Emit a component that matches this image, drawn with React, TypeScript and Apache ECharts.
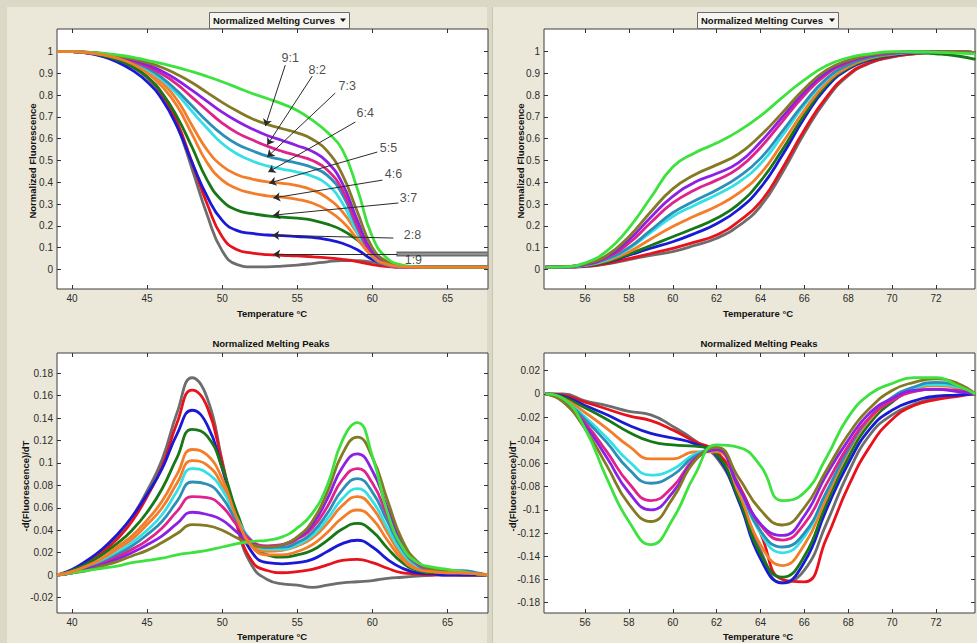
import React, { useEffect, useRef } from "react";
import * as echarts from "echarts";

const FONT = '"Liberation Sans", Arial, Helvetica, sans-serif';

// ---------- temperatures (x samples) ----------
const TL_T = [39, 40, 41, 42, 43, 44, 45, 46, 47, 48, 49, 50, 51, 52, 53, 54, 55, 56, 57, 58, 59, 60, 61, 62, 63, 64, 65, 66, 67, 67.7];
const TR_T = [54.2, 55, 56, 57, 58, 59, 60, 61, 62, 63, 64, 65, 66, 67, 68, 69, 70, 71, 72, 73, 73.8];

// ---------- tick values ----------
const L_XTICKS = [40, 45, 50, 55, 60, 65];
const R_XTICKS = [56, 58, 60, 62, 64, 66, 68, 70, 72];
const CURVE_YTICKS = [0, 0.1, 0.2, 0.3, 0.4, 0.5, 0.6, 0.7, 0.8, 0.9, 1];
const BL_YTICKS = [-0.02, 0, 0.02, 0.04, 0.06, 0.08, 0.1, 0.12, 0.14, 0.16, 0.18];
const BR_YTICKS = [-0.18, -0.16, -0.14, -0.12, -0.1, -0.08, -0.06, -0.04, -0.02, 0, 0.02];

// ---------- groups: gray, red, blue, dark green, orange, cyan, teal, pink, purple, olive, green ----------
const GROUP_KEYS = ["gray", "red", "blue", "dkgreen", "orange", "cyan", "teal", "pink", "purple", "olive", "green"];
const GROUP_COLORS = ["#6d6d6d", "#e8121c", "#1a1ad6", "#177817", "#f47d2a", "#35dfe6", "#2b8fb7", "#e0228c", "#8c20e4", "#857a24", "#3ee23e"];

// ---------- top-left: normalized melting curves ----------
const tlGray = [1, 1, 0.995, 0.985, 0.965, 0.93, 0.88, 0.8, 0.66, 0.46, 0.25, 0.085, 0.022, 0.012, 0.012, 0.015, 0.02, 0.027, 0.035, 0.04, 0.04, 0.033, 0.022, 0.014, 0.012, 0.012, 0.012, 0.012, 0.012, 0.012];
const tlRed = [1, 1, 0.995, 0.985, 0.966, 0.935, 0.885, 0.805, 0.675, 0.49, 0.3, 0.15, 0.09, 0.075, 0.068, 0.065, 0.062, 0.058, 0.053, 0.046, 0.036, 0.022, 0.013, 0.01, 0.01, 0.01, 0.01, 0.01, 0.01, 0.01];
const tlBlue = [1, 1, 0.993, 0.978, 0.953, 0.915, 0.862, 0.78, 0.655, 0.49, 0.335, 0.225, 0.178, 0.165, 0.158, 0.155, 0.151, 0.147, 0.137, 0.12, 0.09, 0.045, 0.02, 0.012, 0.01, 0.01, 0.01, 0.01, 0.01, 0.01];
const tlDkGreen = [1, 1, 0.995, 0.982, 0.962, 0.932, 0.885, 0.81, 0.7, 0.56, 0.41, 0.315, 0.272, 0.256, 0.246, 0.24, 0.235, 0.226, 0.208, 0.18, 0.135, 0.075, 0.03, 0.015, 0.01, 0.01, 0.01, 0.01, 0.01, 0.01];
const tlOrange = [1, 1, 0.996, 0.987, 0.973, 0.95, 0.915, 0.858, 0.778, 0.66, 0.548, 0.475, 0.435, 0.415, 0.402, 0.395, 0.385, 0.365, 0.328, 0.265, 0.165, 0.068, 0.025, 0.012, 0.01, 0.01, 0.01, 0.01, 0.01, 0.01];
const tlOrange2 = [1, 1, 0.996, 0.986, 0.97, 0.944, 0.903, 0.84, 0.75, 0.62, 0.49, 0.41, 0.37, 0.35, 0.338, 0.332, 0.322, 0.305, 0.272, 0.22, 0.14, 0.06, 0.023, 0.012, 0.01, 0.01, 0.01, 0.01, 0.01, 0.01];
const tlCyan = [1, 1, 0.997, 0.99, 0.975, 0.952, 0.918, 0.87, 0.805, 0.725, 0.648, 0.578, 0.53, 0.498, 0.475, 0.46, 0.447, 0.428, 0.39, 0.305, 0.17, 0.06, 0.02, 0.01, 0.01, 0.01, 0.01, 0.01, 0.01, 0.01];
const tlTeal = [1, 1, 0.997, 0.99, 0.977, 0.955, 0.925, 0.88, 0.82, 0.75, 0.68, 0.62, 0.575, 0.545, 0.52, 0.503, 0.488, 0.468, 0.432, 0.345, 0.19, 0.065, 0.02, 0.01, 0.01, 0.01, 0.01, 0.01, 0.01, 0.01];
const tlPink = [1, 1, 0.997, 0.99, 0.977, 0.958, 0.932, 0.897, 0.85, 0.79, 0.73, 0.672, 0.627, 0.595, 0.566, 0.542, 0.522, 0.5, 0.457, 0.365, 0.2, 0.07, 0.022, 0.01, 0.01, 0.01, 0.01, 0.01, 0.01, 0.01];
const tlPurple = [1, 1, 0.997, 0.99, 0.978, 0.962, 0.94, 0.91, 0.87, 0.822, 0.772, 0.722, 0.68, 0.645, 0.615, 0.592, 0.568, 0.542, 0.493, 0.395, 0.225, 0.08, 0.025, 0.012, 0.01, 0.01, 0.01, 0.01, 0.01, 0.01];
const tlOlive = [1, 1, 0.998, 0.992, 0.982, 0.968, 0.95, 0.927, 0.895, 0.857, 0.812, 0.767, 0.727, 0.692, 0.666, 0.646, 0.627, 0.598, 0.543, 0.435, 0.265, 0.1, 0.035, 0.015, 0.01, 0.01, 0.01, 0.01, 0.01, 0.01];
const tlGreen = [1, 1, 0.998, 0.993, 0.985, 0.975, 0.96, 0.945, 0.928, 0.908, 0.886, 0.862, 0.835, 0.808, 0.785, 0.76, 0.73, 0.685, 0.63, 0.55, 0.37, 0.15, 0.05, 0.02, 0.012, 0.01, 0.01, 0.01, 0.01, 0.01];
// two gray traces that stay high at the right end
const tlGrayTailT = [61.6, 67.7];
const tlGrayTailA = [0.077, 0.077];
const tlGrayTailB = [0.064, 0.064];

// ---------- top-right: normalized melting curves ----------
const trGray = [0.01, 0.01, 0.013, 0.025, 0.045, 0.064, 0.082, 0.11, 0.143, 0.2, 0.29, 0.445, 0.625, 0.78, 0.89, 0.948, 0.975, 0.99, 0.998, 1, 0.995];
const trRed = [0.01, 0.01, 0.014, 0.027, 0.05, 0.073, 0.097, 0.125, 0.158, 0.22, 0.31, 0.465, 0.64, 0.79, 0.895, 0.95, 0.977, 0.99, 0.998, 1, 0.995];
const trBlue = [0.01, 0.011, 0.016, 0.033, 0.065, 0.097, 0.127, 0.165, 0.21, 0.275, 0.375, 0.525, 0.695, 0.835, 0.92, 0.962, 0.983, 0.995, 1, 1, 0.995];
const trDkGreen = [0.01, 0.011, 0.017, 0.035, 0.07, 0.11, 0.15, 0.19, 0.235, 0.3, 0.405, 0.55, 0.71, 0.845, 0.925, 0.965, 0.985, 0.995, 0.99, 0.98, 0.965];
const trOrange = [0.01, 0.011, 0.018, 0.04, 0.08, 0.14, 0.197, 0.245, 0.29, 0.35, 0.44, 0.58, 0.73, 0.855, 0.93, 0.97, 0.988, 0.997, 1, 1, 0.99];
const trCyan = [0.01, 0.011, 0.019, 0.045, 0.095, 0.17, 0.243, 0.295, 0.343, 0.4, 0.485, 0.615, 0.755, 0.87, 0.94, 0.975, 0.99, 0.998, 1, 1, 0.995];
const trTeal = [0.01, 0.011, 0.02, 0.048, 0.1, 0.18, 0.26, 0.315, 0.365, 0.425, 0.51, 0.635, 0.765, 0.875, 0.94, 0.975, 0.99, 0.998, 1, 1, 0.99];
const trPink = [0.01, 0.012, 0.022, 0.055, 0.12, 0.215, 0.305, 0.365, 0.41, 0.465, 0.56, 0.68, 0.8, 0.895, 0.95, 0.98, 0.993, 1, 1, 1, 0.995];
const trPurple = [0.01, 0.012, 0.023, 0.06, 0.135, 0.24, 0.335, 0.4, 0.44, 0.49, 0.585, 0.7, 0.815, 0.905, 0.955, 0.982, 0.995, 1, 1, 1, 0.995];
const trOlive = [0.01, 0.012, 0.025, 0.065, 0.15, 0.265, 0.37, 0.435, 0.48, 0.53, 0.615, 0.72, 0.83, 0.915, 0.96, 0.985, 0.997, 1, 1, 1, 0.995];
const trGreen = [0.01, 0.012, 0.03, 0.085, 0.19, 0.33, 0.47, 0.535, 0.58, 0.635, 0.705, 0.79, 0.87, 0.935, 0.972, 0.99, 1, 1, 0.997, 0.993, 0.99];

// ---------- bottom-left: normalized melting peaks ----------
const blGray = [0, 0.004, 0.012, 0.022, 0.035, 0.052, 0.075, 0.103, 0.145, 0.176, 0.158, 0.102, 0.043, 0.008, -0.004, -0.008, -0.009, -0.011, -0.009, -0.007, -0.006, -0.005, -0.003, -0.002, -0.001, 0, 0.001, 0, 0, 0];
const blRed = [0, 0.004, 0.011, 0.02, 0.032, 0.048, 0.07, 0.097, 0.136, 0.165, 0.15, 0.1, 0.045, 0.012, 0.004, 0.002, 0.003, 0.005, 0.009, 0.013, 0.014, 0.011, 0.006, 0.002, 0.001, 0, 0, 0, 0, 0];
const blBlue = [0, 0.005, 0.013, 0.023, 0.036, 0.052, 0.072, 0.095, 0.126, 0.147, 0.134, 0.095, 0.05, 0.02, 0.011, 0.01, 0.011, 0.014, 0.021, 0.028, 0.031, 0.025, 0.014, 0.006, 0.002, 0.001, 0, 0, 0, 0];
const blDkGreen = [0, 0.004, 0.01, 0.018, 0.028, 0.04, 0.056, 0.077, 0.105, 0.13, 0.124, 0.096, 0.055, 0.027, 0.018, 0.016, 0.018, 0.022, 0.031, 0.041, 0.046, 0.039, 0.024, 0.011, 0.004, 0.002, 0.003, 0.003, 0.001, 0];
const blOrange = [0, 0.003, 0.008, 0.014, 0.023, 0.032, 0.045, 0.06, 0.082, 0.102, 0.098, 0.08, 0.05, 0.027, 0.021, 0.022, 0.026, 0.033, 0.046, 0.062, 0.07, 0.06, 0.038, 0.017, 0.006, 0.003, 0.002, 0.002, 0.001, 0];
const blOrange2 = [0, 0.003, 0.008, 0.015, 0.025, 0.035, 0.049, 0.066, 0.09, 0.112, 0.107, 0.086, 0.05, 0.025, 0.018, 0.018, 0.021, 0.027, 0.038, 0.051, 0.058, 0.05, 0.031, 0.014, 0.005, 0.003, 0.002, 0.002, 0.001, 0];
const blCyan = [0, 0.002, 0.006, 0.012, 0.02, 0.029, 0.04, 0.054, 0.075, 0.095, 0.091, 0.076, 0.05, 0.03, 0.023, 0.023, 0.027, 0.035, 0.05, 0.068, 0.077, 0.066, 0.042, 0.02, 0.008, 0.004, 0.003, 0.002, 0.001, 0];
const blTeal = [0, 0.002, 0.006, 0.011, 0.018, 0.026, 0.036, 0.048, 0.066, 0.083, 0.081, 0.069, 0.047, 0.03, 0.025, 0.025, 0.029, 0.038, 0.055, 0.076, 0.086, 0.074, 0.048, 0.023, 0.009, 0.004, 0.004, 0.004, 0.002, 0];
const blPink = [0, 0.002, 0.005, 0.01, 0.016, 0.023, 0.031, 0.042, 0.057, 0.07, 0.069, 0.061, 0.044, 0.03, 0.026, 0.027, 0.032, 0.042, 0.061, 0.085, 0.095, 0.082, 0.053, 0.025, 0.01, 0.005, 0.003, 0.002, 0.001, 0];
const blPurple = [0, 0.002, 0.005, 0.009, 0.014, 0.02, 0.027, 0.035, 0.046, 0.056, 0.054, 0.049, 0.038, 0.028, 0.025, 0.027, 0.033, 0.045, 0.068, 0.096, 0.108, 0.093, 0.06, 0.028, 0.011, 0.005, 0.003, 0.002, 0.001, 0];
const blOlive = [0, 0.002, 0.004, 0.008, 0.012, 0.017, 0.022, 0.029, 0.037, 0.045, 0.044, 0.04, 0.033, 0.027, 0.025, 0.027, 0.034, 0.048, 0.074, 0.108, 0.123, 0.105, 0.067, 0.031, 0.012, 0.005, 0.003, 0.002, 0.001, 0];
const blGreen = [0, 0.002, 0.004, 0.006, 0.008, 0.011, 0.013, 0.015, 0.018, 0.02, 0.022, 0.025, 0.028, 0.03, 0.031, 0.034, 0.042, 0.055, 0.08, 0.12, 0.136, 0.106, 0.056, 0.025, 0.011, 0.007, 0.005, 0.003, 0.001, 0];

// ---------- bottom-right: normalized melting peaks ----------
const brGray = [0, 0, -0.006, -0.01, -0.015, -0.018, -0.028, -0.04, -0.055, -0.09, -0.135, -0.163, -0.152, -0.112, -0.068, -0.035, -0.018, -0.009, -0.003, -0.001, 0];
const brRed = [0, -0.001, -0.007, -0.013, -0.019, -0.023, -0.031, -0.041, -0.05, -0.078, -0.12, -0.16, -0.162, -0.125, -0.08, -0.045, -0.022, -0.01, -0.005, -0.002, 0];
const brBlue = [0, -0.002, -0.01, -0.018, -0.027, -0.034, -0.038, -0.043, -0.053, -0.092, -0.142, -0.163, -0.145, -0.1, -0.06, -0.03, -0.014, -0.006, -0.002, -0.001, 0];
const brDkGreen = [0, -0.003, -0.012, -0.022, -0.033, -0.041, -0.044, -0.045, -0.052, -0.09, -0.138, -0.158, -0.14, -0.095, -0.055, -0.025, -0.007, 0.004, 0.008, 0.006, 0];
const brOrange = [0, -0.004, -0.016, -0.03, -0.045, -0.056, -0.056, -0.05, -0.05, -0.085, -0.13, -0.148, -0.13, -0.09, -0.05, -0.022, -0.005, 0.004, 0.007, 0.005, 0];
const brCyan = [0, -0.005, -0.02, -0.038, -0.058, -0.07, -0.065, -0.052, -0.048, -0.08, -0.12, -0.137, -0.123, -0.085, -0.048, -0.02, -0.004, 0.005, 0.008, 0.006, 0];
const brTeal = [0, -0.005, -0.022, -0.042, -0.065, -0.077, -0.07, -0.054, -0.048, -0.08, -0.118, -0.132, -0.12, -0.085, -0.048, -0.02, -0.003, 0.006, 0.01, 0.007, 0];
const brPink = [0, -0.006, -0.025, -0.05, -0.077, -0.092, -0.08, -0.056, -0.048, -0.08, -0.113, -0.126, -0.112, -0.078, -0.045, -0.02, -0.006, 0.002, 0.004, 0.003, 0];
const brPurple = [0, -0.006, -0.027, -0.055, -0.085, -0.1, -0.085, -0.057, -0.048, -0.08, -0.112, -0.122, -0.105, -0.07, -0.04, -0.016, -0.004, 0.003, 0.004, 0.002, 0];
const brOlive = [0, -0.007, -0.03, -0.062, -0.095, -0.11, -0.09, -0.058, -0.046, -0.072, -0.1, -0.113, -0.098, -0.066, -0.035, -0.012, 0.003, 0.01, 0.013, 0.009, 0];
const brGreen = [0, -0.004, -0.03, -0.073, -0.11, -0.13, -0.108, -0.07, -0.044, -0.046, -0.062, -0.092, -0.085, -0.055, -0.02, 0, 0.009, 0.014, 0.014, 0.007, 0];

// ---------- ratio annotations (top-left), in data units ----------
const RATIO_LABELS = ["9:1", "8:2", "7:3", "6:4", "5:5", "4:6", "3:7", "2:8", "1:9"];
const RATIO_LABEL_POS = [[54.53, 0.97], [56.33, 0.915], [58.33, 0.842], [59.53, 0.718], [61.07, 0.557], [61.4, 0.438], [62.4, 0.327], [62.67, 0.157], [62.73, 0.043]];
const ARROW_FROM = [[54.2, 0.938], [56.0, 0.888], [57.53, 0.81], [58.87, 0.677], [60.33, 0.539], [60.67, 0.41], [61.73, 0.305], [61.4, 0.144], [61.67, 0.07]];
const ARROW_TO = [[52.87, 0.658], [53.0, 0.571], [53.0, 0.516], [53.07, 0.447], [53.13, 0.396], [53.4, 0.328], [53.4, 0.249], [53.33, 0.157], [53.4, 0.07]];

const TL_CURVES = [tlGray, tlRed, tlBlue, tlDkGreen, tlOrange, tlCyan, tlTeal, tlPink, tlPurple, tlOlive, tlGreen];
const TR_CURVES = [trGray, trRed, trBlue, trDkGreen, trOrange, trCyan, trTeal, trPink, trPurple, trOlive, trGreen];
const BL_CURVES = [blGray, blRed, blBlue, blDkGreen, blOrange, blCyan, blTeal, blPink, blPurple, blOlive, blGreen];
const BR_CURVES = [brGray, brRed, brBlue, brDkGreen, brOrange, brCyan, brTeal, brPink, brPurple, brOlive, brGreen];
const ORANGE_INDEX = 4;

const fmt = (v: number) => String(Number(v.toFixed(3)));

function axisBase(p: number, min: number, max: number, ticks: number[]) {
  return {
    type: "value",
    gridIndex: p,
    min,
    max,
    axisLine: { show: false, onZero: false },
    splitLine: { show: false },
    axisTick: { show: true, inside: true, length: 4, lineStyle: { color: "#333", width: 1 }, customValues: ticks },
  };
}

function xPair(p: number, min: number, max: number, ticks: number[]) {
  const base = axisBase(p, min, max, ticks);
  return [
    { ...base, position: "bottom", axisLabel: { show: true, customValues: ticks, formatter: fmt, fontSize: 10, color: "#2b2b2b", fontFamily: FONT, margin: 4 } },
    { ...base, position: "top", axisLabel: { show: false } },
  ];
}

function yPair(p: number, min: number, max: number, ticks: number[]) {
  const base = axisBase(p, min, max, ticks);
  return [
    { ...base, position: "left", axisLabel: { show: true, customValues: ticks, formatter: fmt, fontSize: 10, color: "#2b2b2b", fontFamily: FONT, margin: 4 } },
    { ...base, position: "right", axisLabel: { show: false } },
  ];
}

function oneCurve(p: number, T: number[], vals: number[], gi: number, name: string, width: number) {
  return {
    type: "line",
    name,
    xAxisIndex: p * 2,
    yAxisIndex: p * 2,
    data: T.map((t, i) => [t, vals[i]]),
    smooth: 0.5,
    symbol: "none",
    showSymbol: false,
    silent: true,
    lineStyle: { width, color: GROUP_COLORS[gi] },
    itemStyle: { color: GROUP_COLORS[gi] },
    z: 2,
  };
}

function curveSeries(p: number, T: number[], curves: number[][], width: number) {
  return curves.map((vals, gi) => oneCurve(p, T, vals, gi, `p${p}-${GROUP_KEYS[gi]}`, width));
}

function buildOption() {
  const gridBase = { show: true, backgroundColor: "#ffffff", borderColor: "#3c3c3c", borderWidth: 1, containLabel: false, outerBoundsMode: "none" };
  const grids = [
    { ...gridBase, left: 57, top: 29, width: 431, height: 260 },
    { ...gridBase, left: 544, top: 29, width: 431, height: 260 },
    { ...gridBase, left: 57, top: 353, width: 431, height: 260 },
    { ...gridBase, left: 544, top: 353, width: 431, height: 260 },
  ];
  const xAxis = [
    ...xPair(0, 39, 67.7, L_XTICKS),
    ...xPair(1, 54.13, 73.78, R_XTICKS),
    ...xPair(2, 39, 67.7, L_XTICKS),
    ...xPair(3, 54.13, 73.78, R_XTICKS),
  ];
  const yAxis = [
    ...yPair(0, -0.09, 1.104, CURVE_YTICKS),
    ...yPair(1, -0.09, 1.104, CURVE_YTICKS),
    ...yPair(2, -0.0339, 0.1981, BL_YTICKS),
    ...yPair(3, -0.1889, 0.0353, BR_YTICKS),
  ];

  const series: any[] = [
    ...curveSeries(0, TL_T, TL_CURVES, 2.8),
    oneCurve(0, TL_T, tlOrange2, ORANGE_INDEX, "p0-orange-2", 2.8),
    ...curveSeries(1, TR_T, TR_CURVES, 2.8),
    ...curveSeries(2, TL_T, BL_CURVES, 2.8),
    oneCurve(2, TL_T, blOrange2, ORANGE_INDEX, "p2-orange-2", 2.8),
    ...curveSeries(3, TR_T, BR_CURVES, 2.8),
    {
      type: "line", name: "tl-gray-tail-a", xAxisIndex: 0, yAxisIndex: 0, symbol: "none", silent: true,
      data: tlGrayTailT.map((t, i) => [t, tlGrayTailA[i]]), lineStyle: { width: 2.2, color: "#6d6d6d" }, z: 3,
    },
    {
      type: "line", name: "tl-gray-tail-b", xAxisIndex: 0, yAxisIndex: 0, symbol: "none", silent: true,
      data: tlGrayTailT.map((t, i) => [t, tlGrayTailB[i]]), lineStyle: { width: 2.2, color: "#6d6d6d" }, z: 3,
    },
    {
      type: "lines", coordinateSystem: "cartesian2d", xAxisIndex: 0, yAxisIndex: 0, silent: true,
      symbol: ["none", "arrow"], symbolSize: 7,
      lineStyle: { color: "#2a2a2a", width: 1, opacity: 1, curveness: 0 },
      data: ARROW_FROM.map((f, i) => ({ coords: [f, ARROW_TO[i]] })), z: 5,
    },
    {
      type: "scatter", xAxisIndex: 0, yAxisIndex: 0, silent: true, symbolSize: 1,
      itemStyle: { color: "rgba(0,0,0,0)" },
      label: { show: true, position: "inside", formatter: "{b}", fontSize: 12.5, color: "#1a1a1a", fontFamily: FONT },
      data: RATIO_LABEL_POS.map((p, i) => ({ name: RATIO_LABELS[i], value: p })), z: 6,
    },
  ];

  const titleFont = `bold 9.5px ${FONT}`;
  const txt = (text: string, x: number, y: number, align = "center", rotation = 0) => ({
    type: "text", x, y, rotation, silent: true,
    style: { text, font: titleFont, fill: "#111", align, verticalAlign: "middle" },
  });
  const graphic = [
    { type: "rect", silent: true, shape: { x: 209.5, y: 12.5, width: 140, height: 16 }, style: { fill: "#f6f5f0", stroke: "#6a6a6a", lineWidth: 1 } },
    txt("Normalized Melting Curves", 213, 20.5, "left"),
    { type: "polygon", silent: true, shape: { points: [[340, 18.5], [346, 18.5], [343, 22]] }, style: { fill: "#111" } },
    { type: "rect", silent: true, shape: { x: 697.5, y: 12.5, width: 141, height: 16 }, style: { fill: "#f6f5f0", stroke: "#6a6a6a", lineWidth: 1 } },
    txt("Normalized Melting Curves", 701, 20.5, "left"),
    { type: "polygon", silent: true, shape: { points: [[829, 18.5], [835, 18.5], [832, 22]] }, style: { fill: "#111" } },
    txt("Normalized Melting Peaks", 271, 343),
    txt("Normalized Melting Peaks", 759, 343),
    txt("Temperature °C", 272, 313),
    txt("Temperature °C", 758, 313),
    txt("Temperature °C", 272, 636),
    txt("Temperature °C", 758, 636),
    txt("Normalized Fluorescence", 32, 161, "center", Math.PI / 2),
    txt("Normalized Fluorescence", 520, 161, "center", Math.PI / 2),
    txt("-d(Fluorescence)/dT", 25, 486, "center", Math.PI / 2),
    txt("-d(Fluorescence)/dT", 512, 486, "center", Math.PI / 2),
  ];

  return {
    animation: false,
    backgroundColor: "transparent",
    grid: grids,
    xAxis,
    yAxis,
    series,
    graphic,
  };
}

export default function App() {
  const ref = useRef<HTMLDivElement>(null);
  useEffect(() => {
    if (!ref.current) return;
    const chart = echarts.init(ref.current, null, { renderer: "svg" });
    chart.setOption(buildOption() as any);
    return () => chart.dispose();
  }, []);
  return (
    <div style={{ position: "fixed", left: 0, top: 0, width: 977, height: 643, background: "#dcd8c6", overflow: "hidden" }}>
      <div style={{ position: "absolute", left: 7, top: 7, width: 480, height: 640, background: "#ebe8da" }} />
      <div style={{ position: "absolute", left: 492, top: 7, width: 490, height: 640, background: "#ebe8da", borderLeft: "1px solid #c9c5b3" }} />
      <div ref={ref} style={{ position: "absolute", left: 0, top: 0, width: 977, height: 643 }} />
    </div>
  );
}
